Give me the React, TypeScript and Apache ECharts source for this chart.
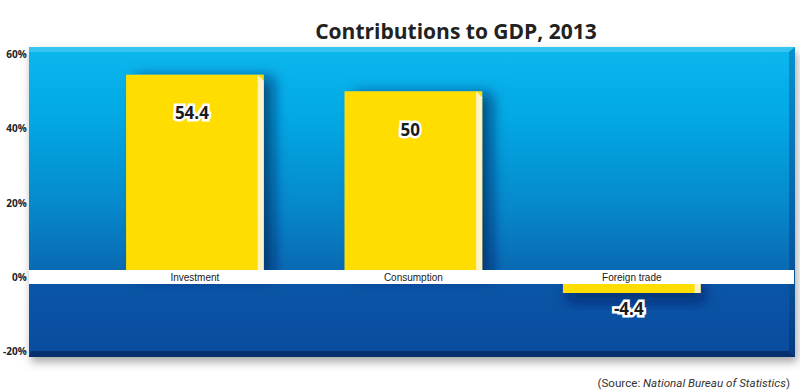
import React, { useEffect, useRef } from "react";
import * as echarts from "echarts";

const categories = ["Investment", "Consumption", "Foreign trade"];
const values = [54.4, 50, -4.4];
const yMin = -20;
const yMax = 60;
const yStep = 20;
const titleText = "Contributions to GDP, 2013";
const sourcePrefix = "(Source: ";
const sourceName = "National Bureau of Statistics";

export default function App() {
  const ref = useRef<HTMLDivElement>(null);
  useEffect(() => {
    if (!ref.current) return;
    const chart = echarts.init(ref.current, undefined, { renderer: "svg" });
    const L = 29, R = 795, T = 47, B = 357, Z = 277;
    const option: any = {
      animation: false,
      title: {
        text: titleText,
        left: 451,
        top: 15,
        textAlign: "center",
        textStyle: { fontFamily: "Open Sans", fontWeight: 700, fontSize: 21, color: "#222" },
      },
      grid: { left: 85, right: 59, top: 54, bottom: 41 },
      xAxis: {
        type: "category",
        data: categories,
        position: "bottom",
        offset: -74,
        z: 6,
        axisLine: { show: false, onZero: false },
        axisTick: { show: false },
        axisLabel: {
          margin: 0,
          verticalAlign: "middle",
          fontFamily: "Liberation Sans",
          fontSize: 10,
          color: "#1a1a1a",
        },
      },
      yAxis: {
        type: "value",
        min: yMin,
        max: yMax,
        interval: yStep,
        z: 6,
        splitLine: { show: false },
        axisLine: { show: false },
        axisTick: { show: false },
        axisLabel: {
          formatter: (v: number) => v + "%",
          margin: 59,
          fontFamily: "Open Sans",
          fontWeight: 700,
          fontSize: 10,
          color: "#222",
        },
      },
      graphic: [
        {
          type: "rect", z: 0,
          shape: { x: L, y: T, width: R - L, height: B - T },
          style: { fill: "#0a5aac", shadowBlur: 10, shadowColor: "rgba(0,0,0,0.35)", shadowOffsetY: 5, shadowOffsetX: 2 },
        },
        {
          type: "rect", z: 0,
          shape: { x: L, y: T, width: R - L, height: Z - T },
          style: {
            fill: new echarts.graphic.LinearGradient(0, 0, 0, 1, [
              { offset: 0, color: "#0cb7ef" },
              { offset: 0.3, color: "#02a9e5" },
              { offset: 0.7, color: "#0688cb" },
              { offset: 1, color: "#0a66b1" },
            ]),
          },
        },
        {
          type: "rect", z: 0,
          shape: { x: L, y: Z, width: R - L, height: B - Z },
          style: {
            fill: new echarts.graphic.LinearGradient(0, 0, 0, 1, [
              { offset: 0, color: "#0a56a8" },
              { offset: 1, color: "#0a4c9e" },
            ]),
          },
        },
        {
          type: "polygon", z: 0,
          shape: { points: [[L, T], [R, T], [R - 6, T + 5], [L, T + 5]] },
          style: { fill: "#36c4f1" },
        },
        {
          type: "polygon", z: 0,
          shape: { points: [[R - 6, T + 5], [R, T], [R, B], [R - 6, B - 6]] },
          style: {
            fill: new echarts.graphic.LinearGradient(0, 0, 0, 1, [
              { offset: 0, color: "#0a8fcd" },
              { offset: 0.7, color: "#08559d" },
              { offset: 1, color: "#063a80" },
            ]),
          },
        },
        {
          type: "polygon", z: 0,
          shape: { points: [[L + 2, B - 6], [R - 6, B - 6], [R, B], [L, B]] },
          style: { fill: "#062f6e" },
        },
        {
          type: "rect", z: 4,
          shape: { x: L, y: 270, width: R - L - 1, height: 14 },
          style: { fill: "#ffffff" },
        },
        {
          type: "text", z: 5,
          x: 790, y: 383,
          style: {
            text: "{a|" + sourcePrefix + "}{b|" + sourceName + "}{a|)}",
            align: "right",
            verticalAlign: "middle",
            rich: {
              a: { fontFamily: "Roboto", fontSize: 11.6, fontStyle: "normal", fill: "#333" },
              b: { fontFamily: "Roboto", fontSize: 11.6, fontStyle: "italic", fill: "#333" },
            },
          },
        },
      ],
      series: [
        {
          type: "custom",
          z: 2,
          data: values.map((v, i) => [i, v]),
          renderItem: (params: any, api: any) => {
            const v = api.value(1);
            const top = api.coord([api.value(0), v]);
            const base = api.coord([api.value(0), 0]);
            const bw = api.size([1, 0])[0] * 0.63;
            const edge = 6;
            const x0 = top[0] - bw / 2;
            const y1 = Math.min(top[1], base[1]);
            const y2 = Math.max(top[1], base[1]);
            const pos = v >= 0;
            return {
              type: "group",
              children: [
                {
                  type: "rect",
                  shape: { x: x0, y: y1, width: bw, height: y2 - y1 },
                  style: {
                    fill: "#ffdd00",
                    shadowBlur: 14,
                    shadowColor: "rgba(0,25,75,0.6)",
                    shadowOffsetX: pos ? 10 : 4,
                    shadowOffsetY: pos ? 2 : 8,
                  },
                },
                {
                  type: "polygon",
                  shape: {
                    points: [
                      [x0 + bw - edge, y1],
                      [x0 + bw, y1 + edge],
                      [x0 + bw, y2],
                      [x0 + bw - edge, y2],
                    ],
                  },
                  style: { fill: "#fdf3c6" },
                },
                {
                  type: "text",
                  x: top[0] - 3,
                  y: pos ? top[1] + 38 : y2 + 15,
                  z2: 10,
                  style: {
                    text: String(v),
                    align: "center",
                    verticalAlign: "middle",
                    fontFamily: "Open Sans",
                    fontWeight: 700,
                    fontSize: 17,
                    fill: "#1b1b1b",
                    stroke: "#ffffff",
                    lineWidth: 5,
                  },
                },
              ],
            };
          },
        },
      ],
    };
    chart.setOption(option);
    return () => chart.dispose();
  }, []);
  return (
    <div
      ref={ref}
      style={{ position: "absolute", left: 0, top: 0, width: 800, height: 392 }}
    />
  );
}
